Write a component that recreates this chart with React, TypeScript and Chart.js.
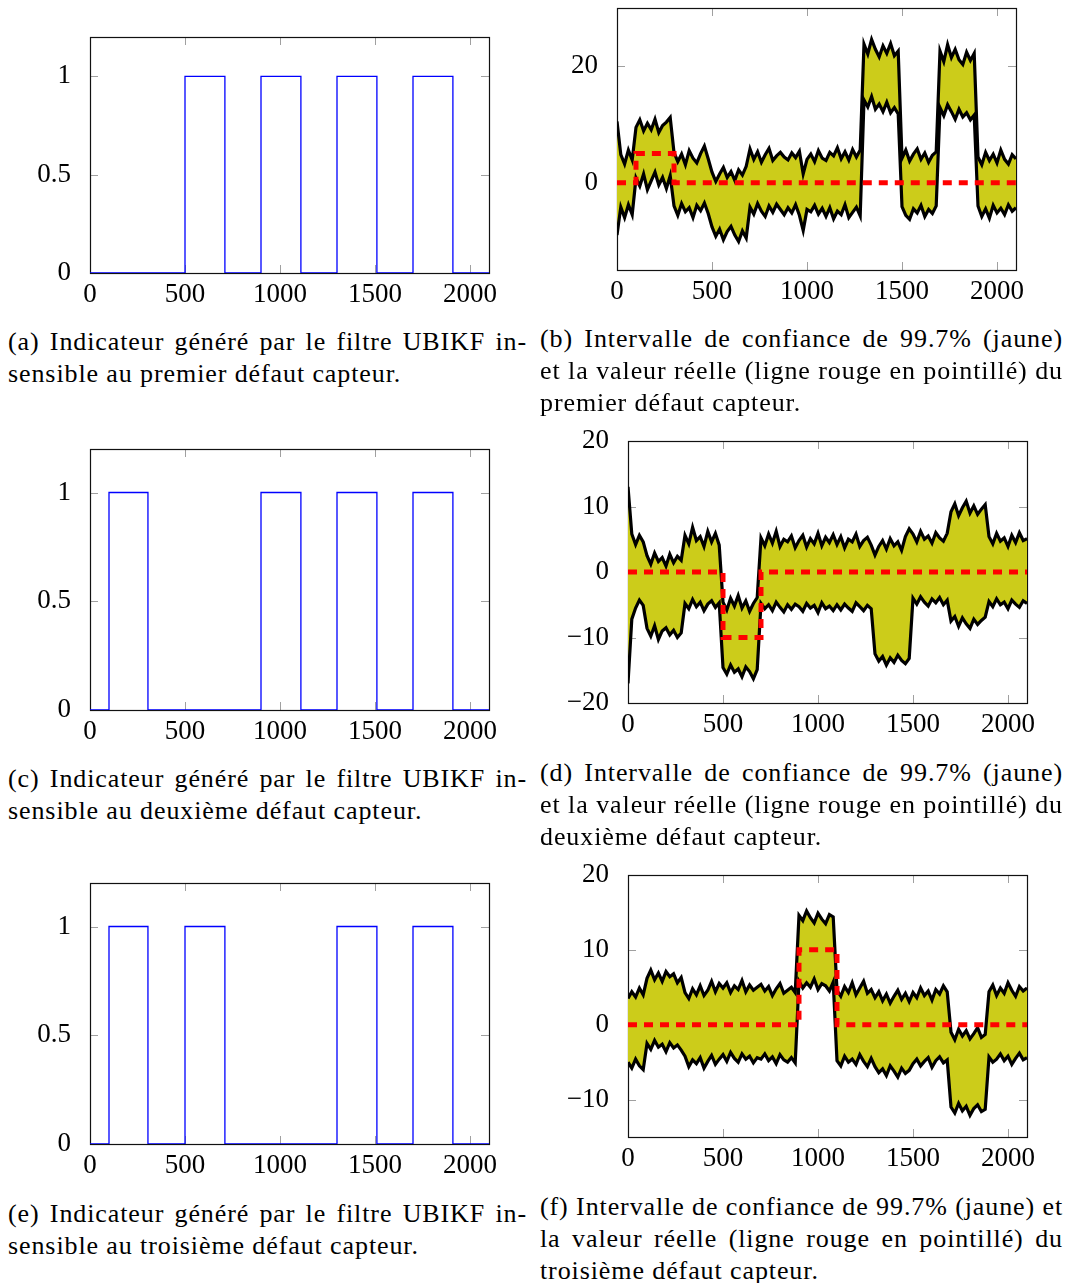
import React, { useEffect, useRef } from "react";
import { Chart, registerables } from "chart.js";

Chart.register(...registerables);

// ---------- fonts / styles ----------
const SERIF = '"Liberation Serif", "DejaVu Serif", serif';
const TICK_FONT_SIZE = 27;
const YELLOW = "rgb(204,204,26)";

// ---------- shared axes ----------
const X_MIN = 0;
const X_MAX = 2100;
const X_TICKS = [0, 500, 1000, 1500, 2000];
const SAMPLE_STEP = 20; // samples of the confidence bounds every 20 time steps

const IND_Y_TICKS = [0, 0.5, 1];
const B_Y_TICKS = [0, 20];
const D_Y_TICKS = [-20, -10, 0, 10, 20];
const F_Y_TICKS = [-10, 0, 10, 20];

// ---------- indicators (change points / values) ----------
const indA_t = [0, 500, 710, 900, 1110, 1300, 1510, 1700, 1910, 2100];
const indA_v = [0, 1, 0, 1, 0, 1, 0, 1, 0, 0];
const indC_t = [0, 100, 305, 900, 1110, 1300, 1510, 1700, 1910, 2100];
const indC_v = [0, 1, 0, 1, 0, 1, 0, 1, 0, 0];
const indE_t = [0, 100, 305, 500, 710, 1300, 1510, 1700, 1910, 2100];
const indE_v = [0, 1, 0, 1, 0, 1, 0, 1, 0, 0];

// ---------- true fault values (change points / values) ----------
const faultB_t = [0, 100, 300, 2100];
const faultB_v = [0, 5, 0, 0];
const faultD_t = [0, 500, 700, 2100];
const faultD_v = [0, -10, 0, 0];
const faultF_t = [0, 900, 1100, 2100];
const faultF_v = [0, 10, 0, 0];

// ---------- 99.7% bounds (one value every 20 steps, 0..2100) ----------
const upperB = [
  10.5, 4.8, 3.2, 5.6, 3.9,
  9.5, 10.8, 8.9, 10.2, 9.1, 10.9, 8.6, 9.8, 10.4, 11.2,
  5.2, 3.6, 4.9, 3.1, 5.5, 4.2, 3.4, 5.0, 6.3, 4.1,
  1.8, 0.2, 1.5, 2.6, 0.9, 1.9, 0.4, 2.2, 1.3, 2.8,
  5.8, 4.0, 5.3, 3.5, 4.8, 5.9, 3.8, 4.6, 5.2, 4.4,
  3.9, 5.1, 4.3, 5.4, 1.5, 4.0, 4.9, 3.6, 5.5, 4.2,
  3.8, 5.2, 4.6, 6.0, 4.1, 5.3, 3.9, 5.7, 4.4, 5.6,
  23.8, 22.1, 24.6, 22.9, 21.6, 23.5, 22.2, 23.9, 21.8, 22.6,
  4.2, 5.6, 3.7, 4.9, 5.8, 4.0, 5.1, 3.5, 4.7, 5.3,
  22.6, 20.8, 23.7, 21.5, 22.9, 21.1, 20.3, 22.4, 21.0, 22.2,
  4.4, 3.1, 5.2, 3.8, 4.9, 3.4, 5.6, 4.0, 3.2, 4.8, 4.1,
];
const lowerB = [
  -9.0, -4.2, -6.0, -3.8, -5.5,
  0.8, -0.6, 1.5, -1.2, 0.3, 1.8, -0.4, 0.9, -1.0, 1.2,
  -4.0, -5.6, -3.6, -5.0, -4.3, -6.0, -3.9, -4.8, -3.5, -5.3,
  -7.6, -9.2, -8.0, -9.8, -8.4, -7.5, -9.0, -10.1, -8.3, -9.5,
  -4.2, -5.4, -3.6, -4.9, -5.8, -4.0, -5.1, -3.7, -4.6, -5.5,
  -4.3, -5.2, -3.8, -5.6, -8.2, -4.6, -5.0, -3.9, -5.4, -4.4,
  -5.8, -4.3, -6.2, -4.9, -5.5, -3.8, -6.0, -5.1, -4.2, -5.7,
  14.2, 13.0, 14.8, 12.6, 13.5, 12.2, 13.8, 12.0, 12.9, 11.8,
  -4.1, -5.6, -6.3, -4.5, -5.2, -3.9, -5.8, -4.6, -5.3, -4.0,
  12.9, 11.5, 13.4, 12.2, 10.9, 12.6, 11.3, 12.0, 10.8, 11.6,
  -4.0, -5.8, -4.5, -6.1, -3.9, -5.2, -4.4, -5.5, -3.8, -4.9, -4.3,
];

const upperD = [
  13.0, 5.8, 4.2, 5.6, 4.6,
  2.5, 1.2, 2.9, 1.6, 2.2, 0.9, 2.7, 1.4, 2.4, 1.8,
  5.6, 4.3, 6.8, 4.8, 5.4, 3.9, 6.2, 4.6, 5.9, 4.1,
  -4.6, -5.8, -4.0, -5.2, -3.6, -5.5, -4.4, -6.0, -4.8, -3.9,
  5.2, 4.0, 5.8, 4.4, 6.2, 3.9, 5.0, 4.6, 5.5, 3.7,
  4.8, 5.6, 3.8, 5.1, 4.3, 5.9, 4.0, 5.3, 4.5, 5.7,
  4.2, 5.4, 3.7, 5.0, 4.6, 5.8, 3.9, 4.8, 5.3, 4.1,
  2.6, 3.9, 4.8, 3.5, 5.1, 4.0, 4.6, 3.3, 5.4, 6.6,
  5.8, 4.6, 6.2, 5.0, 5.5, 4.4, 6.0, 5.2, 4.7, 5.9,
  9.2, 10.4, 8.6, 9.8, 10.8, 9.0, 10.1, 8.8, 9.6, 10.3,
  5.4, 4.3, 5.9, 4.7, 5.2, 3.9, 5.6, 4.5, 6.0, 4.8, 5.1,
];
const lowerD = [
  -17.0, -7.2, -5.5, -4.3, -5.1,
  -8.6, -9.8, -8.2, -10.3, -9.0, -8.5, -9.6, -8.9, -10.0, -9.3,
  -4.8, -5.6, -4.2, -5.3, -4.6, -5.9, -4.9, -4.4, -5.4, -4.7,
  -14.6, -15.6, -14.2, -15.3, -14.8, -16.0, -14.5, -15.2, -16.3, -14.9,
  -4.8, -5.6, -5.0, -5.9, -4.6, -5.4, -6.1, -5.0, -5.7, -4.9,
  -5.3, -6.0, -4.8, -5.5, -5.1, -6.2, -4.7, -5.6, -5.2, -5.9,
  -5.0, -5.8, -4.9, -5.5, -6.0, -4.7, -5.3, -5.9, -5.1, -5.6,
  -12.5, -13.6, -12.9, -14.2, -13.1, -13.8, -12.7, -13.5, -14.0, -13.2,
  -4.0, -4.9, -3.8, -4.6, -5.2, -4.1, -4.7, -3.9, -5.0, -4.3,
  -7.5, -6.8, -8.3, -7.0, -7.9, -8.6, -7.2, -8.0, -7.4, -6.9,
  -4.5, -5.3, -4.1, -5.0, -4.6, -5.6, -4.3, -4.9, -5.4, -4.4, -4.8,
];

const upperF = [
  3.5, 4.4, 3.7, 4.9, 4.0,
  6.2, 7.3, 6.0, 6.9, 5.8, 7.1, 6.4, 6.8, 5.6, 6.3,
  4.3, 3.5, 4.8, 4.0, 5.2, 3.9, 4.6, 5.8, 4.4, 5.5,
  4.9, 5.6, 4.3, 5.2, 4.7, 5.9, 4.4, 5.3, 4.6, 5.0,
  5.4, 4.5, 5.1, 3.9, 4.8, 5.5, 4.2, 4.6, 5.0, 4.3,
  14.6, 13.9, 15.2, 14.3, 13.6, 14.9, 14.1, 13.5, 14.7, 14.4,
  4.6, 3.8, 5.1, 4.3, 5.6, 4.0, 4.9, 5.8, 4.2, 4.7,
  3.6, 4.4, 3.2, 4.1, 2.9, 3.8, 4.6, 3.4, 4.2, 3.1,
  4.3, 3.6, 4.9, 3.9, 4.5, 3.3, 4.7, 4.1, 5.2, 4.4,
  -1.0, -2.0, -0.6, -1.5, -0.8, -1.9, -1.2, -0.4, -1.7, -1.3,
  4.4, 5.3, 3.9, 4.9, 4.2, 5.6, 4.6, 3.8, 5.1, 4.5, 4.9,
];
const lowerF = [
  -5.0, -5.8, -4.6, -5.5, -6.0,
  -2.5, -3.3, -2.1, -3.0, -2.6, -3.6, -2.4, -3.1, -2.7, -3.4,
  -4.2, -5.6, -4.7, -5.2, -4.4, -5.8, -4.9, -4.1, -5.3, -4.6,
  -4.0, -4.9, -3.7, -4.5, -5.0, -3.9, -4.6, -4.2, -5.1, -4.4,
  -4.6, -3.9, -4.8, -4.3, -5.2, -4.0, -4.7, -5.0, -4.4, -5.1,
  5.8, 4.9, 5.6, 5.0, 6.1, 4.7, 5.5, 5.2, 4.5, 5.7,
  -4.8, -5.5, -4.2, -5.0, -4.6, -5.3, -4.0, -4.9, -5.6, -4.5,
  -5.6, -6.4, -5.9, -6.8, -5.5, -6.2, -7.0, -5.8, -6.5, -6.1,
  -5.2, -4.6, -5.5, -4.9, -4.4, -5.7, -4.8, -4.3, -5.1, -4.7,
  -11.0, -11.8, -10.5, -11.5, -10.9, -12.1, -11.2, -10.7, -11.6, -11.3,
  -4.3, -5.0, -4.6, -3.9, -4.8, -4.2, -5.3, -4.5, -3.8, -4.7, -4.4,
];

// ---------- captions ----------
const CAP_A = ["(a) Indicateur généré par le filtre UBIKF in-", "sensible au premier défaut capteur."];
const CAP_B = [
  "(b) Intervalle de confiance de 99.7% (jaune)",
  "et la valeur réelle (ligne rouge en pointillé) du",
  "premier défaut capteur.",
];
const CAP_C = ["(c) Indicateur généré par le filtre UBIKF in-", "sensible au deuxième défaut capteur."];
const CAP_D = [
  "(d) Intervalle de confiance de 99.7% (jaune)",
  "et la valeur réelle (ligne rouge en pointillé) du",
  "deuxième défaut capteur.",
];
const CAP_E = ["(e) Indicateur généré par le filtre UBIKF in-", "sensible au troisième défaut capteur."];
const CAP_F = [
  "(f) Intervalle de confiance de 99.7% (jaune) et",
  "la valeur réelle (ligne rouge en pointillé) du",
  "troisième défaut capteur.",
];

// ---------- layout ----------
const PAD_L = 5;
const PAD_R = 30;
const PAD_T = 40;
const PAD_B = 6;
const Y_AXIS_W = 80;
const X_AXIS_H = 44;
const PLOT_W = 399;

// ---------- helpers ----------
const stepData = (t: number[], v: number[]) => t.map((x, i) => ({ x, y: v[i] }));
const sampled = (v: number[]) => v.map((y, i) => ({ x: i * SAMPLE_STEP, y }));
const fmtTick = (v: number) => (v < 0 ? "\u2212" + String(Math.abs(v)) : String(v));

function indicatorDatasets(t: number[], v: number[]) {
  return [
    {
      data: stepData(t, v),
      borderColor: "#0000ff",
      borderWidth: 1.3,
      stepped: true,
      pointRadius: 0,
      fill: false,
    },
  ];
}

function bandDatasets(up: number[], lo: number[], ft: number[], fv: number[]) {
  return [
    {
      data: stepData(ft, fv),
      borderColor: "#ff0000",
      borderWidth: 5,
      borderDash: [9, 7],
      borderCapStyle: "butt",
      stepped: true,
      pointRadius: 0,
      fill: false,
      order: 0,
    },
    {
      data: sampled(up),
      borderColor: "#000000",
      borderWidth: 3.2,
      borderJoinStyle: "miter",
      pointRadius: 0,
      fill: "+1",
      backgroundColor: YELLOW,
      order: 1,
    },
    {
      data: sampled(lo),
      borderColor: "#000000",
      borderWidth: 3.2,
      borderJoinStyle: "miter",
      pointRadius: 0,
      fill: false,
      order: 2,
    },
  ];
}

function framePlugin(xTicks: number[], yTicks: number[]) {
  return {
    id: "pgfFrame",
    beforeDraw(chart: any) {
      const { ctx, chartArea: a, scales } = chart;
      const L = 8;
      ctx.save();
      ctx.strokeStyle = "#a0a0a0";
      ctx.lineWidth = 1;
      ctx.beginPath();
      for (const v of xTicks) {
        const px = Math.round(scales.x.getPixelForValue(v)) + 0.5;
        ctx.moveTo(px, a.bottom);
        ctx.lineTo(px, a.bottom - L);
        ctx.moveTo(px, a.top);
        ctx.lineTo(px, a.top + L);
      }
      for (const v of yTicks) {
        const py = Math.round(scales.y.getPixelForValue(v)) + 0.5;
        ctx.moveTo(a.left, py);
        ctx.lineTo(a.left + L, py);
        ctx.moveTo(a.right, py);
        ctx.lineTo(a.right - L, py);
      }
      ctx.stroke();
      ctx.strokeStyle = "#111111";
      ctx.lineWidth = 1.2;
      ctx.strokeRect(
        Math.round(a.left) + 0.5,
        Math.round(a.top) + 0.5,
        Math.round(a.right - a.left),
        Math.round(a.bottom - a.top)
      );
      ctx.restore();
    },
  };
}

type PlotProps = {
  plotLeft: number;
  plotTop: number;
  plotH: number;
  yMin: number;
  yMax: number;
  yTicks: number[];
  datasets: any[];
};

function PgfPlot({ plotLeft, plotTop, plotH, yMin, yMax, yTicks, datasets }: PlotProps) {
  const ref = useRef<HTMLCanvasElement>(null);
  const w = PAD_L + Y_AXIS_W + PLOT_W + PAD_R;
  const h = PAD_T + plotH + X_AXIS_H + PAD_B;
  const left = plotLeft - Y_AXIS_W - PAD_L;
  const top = plotTop - PAD_T;

  useEffect(() => {
    if (!ref.current) return;
    const font = { family: SERIF, size: TICK_FONT_SIZE };
    const chart = new Chart(ref.current, {
      type: "line",
      data: { datasets },
      options: {
        responsive: false,
        animation: false,
        events: [],
        layout: { padding: { left: PAD_L, right: PAD_R, top: PAD_T, bottom: PAD_B } },
        plugins: {
          legend: { display: false },
          tooltip: { enabled: false },
          filler: { drawTime: "beforeDatasetsDraw", propagate: false },
        },
        elements: { point: { radius: 0 }, line: { tension: 0 } },
        scales: {
          x: {
            type: "linear",
            min: X_MIN,
            max: X_MAX,
            grid: { display: false },
            border: { display: false },
            ticks: {
              font,
              color: "#000",
              padding: -2,
              maxRotation: 0,
              autoSkip: false,
              includeBounds: false,
              callback: (v: any) => fmtTick(Number(v)),
            },
            afterBuildTicks: (ax: any) => {
              ax.ticks = X_TICKS.map((value) => ({ value }));
            },
            afterFit: (ax: any) => {
              ax.height = X_AXIS_H;
            },
          },
          y: {
            type: "linear",
            min: yMin,
            max: yMax,
            grid: { display: false },
            border: { display: false },
            ticks: {
              font,
              color: "#000",
              padding: 11,
              autoSkip: false,
              includeBounds: false,
              callback: (v: any) => fmtTick(Number(v)),
            },
            afterBuildTicks: (ax: any) => {
              ax.ticks = yTicks.map((value) => ({ value }));
            },
            afterFit: (ax: any) => {
              ax.width = Y_AXIS_W;
            },
          },
        },
      } as any,
      plugins: [framePlugin(X_TICKS, yTicks)],
    });
    return () => chart.destroy();
  }, []);

  return (
    <canvas
      ref={ref}
      width={w}
      height={h}
      style={{ position: "absolute", left, top, width: w, height: h, display: "block" }}
    />
  );
}

const CAP_FONT_SIZE = 26;
const CAP_LINE_H = 32;

function Caption({ left, width, firstCenter, lines }: { left: number; width: number; firstCenter: number; lines: string[] }) {
  return (
    <>
      {lines.map((line, i) => {
        const last = i === lines.length - 1;
        return (
          <div
            key={i}
            style={{
              position: "absolute",
              left,
              top: firstCenter - 16 + i * CAP_LINE_H,
              width,
              height: CAP_LINE_H,
              lineHeight: CAP_LINE_H + "px",
              fontFamily: SERIF,
              fontSize: CAP_FONT_SIZE,
              letterSpacing: "0.9px",
              color: "#000",
              whiteSpace: "nowrap",
              textAlign: last ? "left" : "justify",
              textAlignLast: last ? "left" : "justify",
            } as any}
          >
            {line}
          </div>
        );
      })}
    </>
  );
}

export default function App() {
  return (
    <div
      style={{
        position: "absolute",
        left: 0,
        top: 0,
        width: 1070,
        height: 1283,
        overflow: "hidden",
        background: "#fff",
      }}
    >
      <PgfPlot plotLeft={90} plotTop={37} plotH={236} yMin={0} yMax={1.2} yTicks={IND_Y_TICKS} datasets={indicatorDatasets(indA_t, indA_v)} />
      <PgfPlot plotLeft={617} plotTop={8} plotH={262} yMin={-15} yMax={30} yTicks={B_Y_TICKS} datasets={bandDatasets(upperB, lowerB, faultB_t, faultB_v)} />
      <PgfPlot plotLeft={90} plotTop={449} plotH={261} yMin={0} yMax={1.2} yTicks={IND_Y_TICKS} datasets={indicatorDatasets(indC_t, indC_v)} />
      <PgfPlot plotLeft={628} plotTop={441} plotH={262} yMin={-20} yMax={20} yTicks={D_Y_TICKS} datasets={bandDatasets(upperD, lowerD, faultD_t, faultD_v)} />
      <PgfPlot plotLeft={90} plotTop={883} plotH={261} yMin={0} yMax={1.2} yTicks={IND_Y_TICKS} datasets={indicatorDatasets(indE_t, indE_v)} />
      <PgfPlot plotLeft={628} plotTop={875} plotH={262} yMin={-15} yMax={20} yTicks={F_Y_TICKS} datasets={bandDatasets(upperF, lowerF, faultF_t, faultF_v)} />

      <Caption left={8} width={519} firstCenter={342} lines={CAP_A} />
      <Caption left={540} width={523} firstCenter={339} lines={CAP_B} />
      <Caption left={8} width={519} firstCenter={779} lines={CAP_C} />
      <Caption left={540} width={523} firstCenter={773} lines={CAP_D} />
      <Caption left={8} width={519} firstCenter={1214} lines={CAP_E} />
      <Caption left={540} width={523} firstCenter={1207} lines={CAP_F} />
    </div>
  );
}
